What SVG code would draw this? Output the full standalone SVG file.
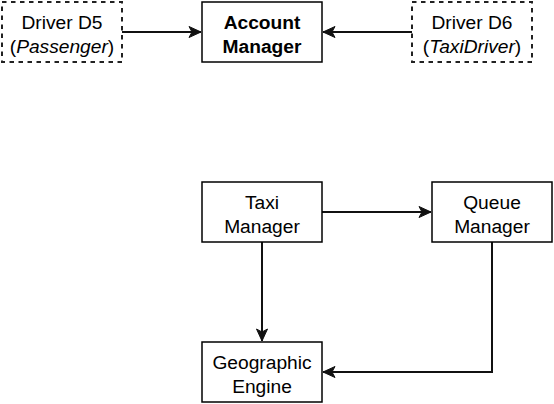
<svg xmlns="http://www.w3.org/2000/svg" width="554" height="404" viewBox="0 0 554 404">
<style>
.box{fill:#fff;stroke:#000;stroke-width:1.5}
.dash{stroke-width:2;stroke-dasharray:4.5 4.5;stroke:#222}
.t{font-family:"Liberation Sans",Arial,sans-serif;font-size:19.2px;fill:#000;text-anchor:middle}
.b{font-weight:bold}
.i{font-style:italic}
.c{fill:none;stroke:#111;stroke-width:2}
</style>
<defs>
<marker id="ah" markerUnits="userSpaceOnUse" markerWidth="16" markerHeight="16" viewBox="-14 -8 16 16" refX="0" refY="0" orient="auto">
<path d="M0,0 L-12,-5.5 L-9,0 L-12,5.5 Z" fill="#111" stroke="#111" stroke-width="1"/>
</marker>
</defs>
<g id="connectors">
<path class="c" d="M122,32 H201" marker-end="url(#ah)"/>
<path class="c" d="M412,32 H323" marker-end="url(#ah)"/>
<path class="c" d="M322,212 H431" marker-end="url(#ah)"/>
<path class="c" d="M262,242 V341" marker-end="url(#ah)"/>
<path class="c" d="M492,242 V372 H323" marker-end="url(#ah)"/>
</g>
<g id="driver-d5">
<rect class="box dash" x="2" y="2" width="120" height="60"/>
<text class="t" x="62" y="29">Driver D5</text>
<text class="t" x="62" y="53">(<tspan class="i">Passenger</tspan>)</text>
</g>
<g id="account-manager">
<rect class="box" x="202" y="2" width="120" height="60"/>
<text class="t b" x="262" y="29">Account</text>
<text class="t b" x="262" y="53">Manager</text>
</g>
<g id="driver-d6">
<rect class="box dash" x="412" y="2" width="120" height="60"/>
<text class="t" x="472" y="29">Driver D6</text>
<text class="t" x="472" y="53">(<tspan class="i">TaxiDriver</tspan>)</text>
</g>
<g id="taxi-manager">
<rect class="box" x="202" y="182" width="120" height="60"/>
<text class="t" x="262" y="209">Taxi</text>
<text class="t" x="262" y="233">Manager</text>
</g>
<g id="queue-manager">
<rect class="box" x="432" y="182" width="120" height="60"/>
<text class="t" x="492" y="209">Queue</text>
<text class="t" x="492" y="233">Manager</text>
</g>
<g id="geographic-engine">
<rect class="box" x="202" y="342" width="120" height="60"/>
<text class="t" x="262" y="369">Geographic</text>
<text class="t" x="262" y="393">Engine</text>
</g>
</svg>
